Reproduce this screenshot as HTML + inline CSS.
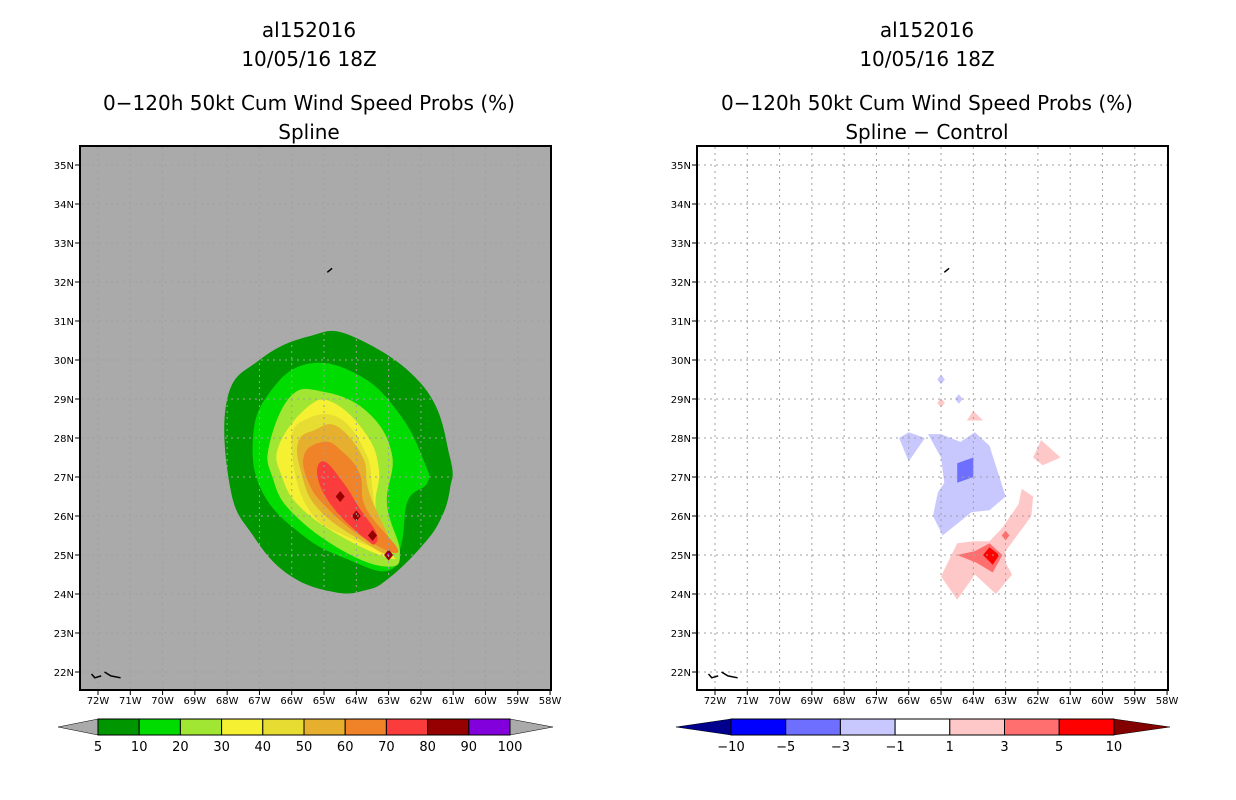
<!DOCTYPE html>
<html><head><meta charset="utf-8">
<style>
body{margin:0;background:#fff;}
svg{display:block;font-family:"DejaVu Sans","Liberation Sans",sans-serif;}
</style></head>
<body>
<svg id="chart" width="1236" height="800" viewBox="0 0 1236 800">
<g id="texts" font-size="20" text-anchor="middle" fill="#000">
  <text x="309" y="37">al152016</text>
  <text x="309" y="66">10/05/16 18Z</text>
  <text x="309" y="110">0−120h 50kt Cum Wind Speed Probs (%)</text>
  <text x="309" y="139">Spline</text>
  <text x="927" y="37">al152016</text>
  <text x="927" y="66">10/05/16 18Z</text>
  <text x="927" y="110">0−120h 50kt Cum Wind Speed Probs (%)</text>
  <text x="927" y="139">Spline − Control</text>
</g>
</svg>
<script>
// ---- data ----
const latTicks = [22,23,24,25,26,27,28,29,30,31,32,33,34,35];
const lonTicks = [72,71,70,69,68,67,66,65,64,63,62,61,60,59,58];
const probLevels = [5,10,20,30,40,50,60,70];
const probColors = ["#009600","#00dc00","#a0e632","#f5f032","#e6dc32","#e6af2d","#f08228","#fa3c3c"];
const prob5 = [[68.0,29.0],[67.0,30.0],[65.5,30.6],[64.1,30.6],[61.9,29.3],[61.1,27.5],[61.1,26.7],[61.4,25.9],[62.0,25.2],[63.0,24.4],[63.7,24.1],[64.7,24.05],[66.1,24.5],[67.2,25.5],[67.9,26.7]];
const prob10 = [[67.2,28.0],[66.7,29.15],[65.5,29.9],[63.9,29.6],[62.65,28.6],[61.9,27.4],[61.8,26.85],[62.4,26.4],[62.6,25.3],[63.0,24.6],[64.3,24.9],[65.65,25.5],[66.9,26.6]];
const prob20 = [[66.7,27.8],[66.05,29.05],[65.1,29.2],[63.7,28.7],[62.9,27.6],[63.05,26.3],[62.65,25.1],[63.0,24.7],[64.4,25.1],[66.0,26.1],[66.6,27.0]];
const prob30 = [[66.4,27.8],[65.5,28.8],[64.7,28.9],[63.7,28.1],[63.3,27.2],[63.4,26.2],[63.0,25.2],[62.9,24.9],[64.3,25.4],[65.7,26.2],[66.3,27.0]];
const prob40 = [[66.0,27.9],[65.5,28.5],[64.5,28.5],[63.7,27.6],[63.5,26.7],[63.3,25.4],[62.7,25.05],[64.1,25.4],[65.5,26.2]];
const prob50 = [[65.8,27.9],[65.3,28.2],[64.6,28.3],[63.8,27.5],[63.6,26.6],[62.9,25.1],[63.9,25.4],[65.2,26.2],[65.7,27.1]];
const prob60 = [[65.6,27.6],[65.0,27.9],[64.5,27.7],[63.9,27.1],[63.7,26.2],[62.7,25.1],[63.7,25.4],[64.9,26.2],[65.5,26.9]];
const prob70 = [[65.0,27.4],[64.4,26.85],[63.9,26.2],[63.4,25.6],[63.4,25.3],[63.7,25.4],[64.7,26.2],[65.2,27.0]];
const prob80Spots = [[64.5,26.5],[64.0,26.0],[63.5,25.5],[63.0,25.0]];
const probPolys = [prob5,prob10,prob20,prob30,prob40,prob50,prob60,prob70];

const diffColors = {lb:"#c8c8ff", mb:"#6f6fff", lp:"#ffc8c8", mr:"#ff6f6f", rr:"#ff0000"};
const diffPolys = [
 ["lb",[[66.3,28.0],[66.0,28.15],[65.5,28.0],[66.0,27.4]]],
 ["lb",[[65.4,28.1],[65.0,28.1],[64.4,27.9],[63.95,28.15],[63.5,27.8],[63.0,26.5],[63.5,26.15],[64.05,26.1],[64.95,25.5],[65.25,26.0],[65.1,26.6],[64.9,26.85],[65.0,27.5]]],
 ["mb",[[64.5,27.35],[64.0,27.5],[64.0,27.0],[64.5,26.85]]],
 ["lp",[[62.5,26.7],[62.15,26.5],[62.2,26.0],[63.0,25.1],[63.0,24.8],[62.8,24.5],[63.3,24.0],[63.95,24.5],[64.5,23.85],[65.0,24.45],[64.5,25.3],[64.0,25.35],[63.5,25.35],[63.1,25.7],[62.6,26.3]]],
 ["mr",[[64.5,25.0],[63.95,25.1],[63.5,25.3],[63.1,25.0],[63.4,24.55],[63.9,24.8]]],
 ["rr",[[63.7,25.0],[63.5,25.2],[63.2,25.0],[63.4,24.75]]],
 ["lp",[[61.9,27.95],[61.3,27.5],[61.85,27.3],[62.15,27.5]]],
 ["lp",[[64.0,28.7],[63.7,28.45],[64.2,28.45]]]
];
const diffSpots = [["mr",63.0,25.5],["lp",65.0,28.9],["lb",65.0,29.5],["lb",64.45,29.0]];

const probCbarLabels = ["5","10","20","30","40","50","60","70","80","90","100"];
const probCbarColors = ["#009600","#00dc00","#a0e632","#f5f032","#e6dc32","#e6af2d","#f08228","#fa3c3c","#960000","#8200dc"];
const diffCbarLabels = ["−10","−5","−3","−1","1","3","5","10"];
const diffCbarColors = ["#0000ff","#6f6fff","#c8c8ff","#ffffff","#ffc8c8","#ff6f6f","#ff0000"];

// ---- drawing ----
const NS="http://www.w3.org/2000/svg";
const svg=document.getElementById('chart');
function mk(tag,attrs,parent){const e=document.createElementNS(NS,tag);for(const k in attrs)e.setAttribute(k,attrs[k]);(parent||svg).appendChild(e);return e;}
const PX=32.29, PY=39;
function xs(ox,lonW){return ox+98+(72-lonW)*PX;}
function ys(lat){return 672-(lat-22)*PY;}
function pts(ox,arr){return arr.map(p=>xs(ox,p[0]).toFixed(1)+","+ys(p[1]).toFixed(1)).join(" ");}
function smoothPath(ox,arr,t){
  const P=arr.map(p=>[xs(ox,p[0]),ys(p[1])]); const n=P.length; t=t||0.5;
  let d="M"+P[0][0].toFixed(1)+","+P[0][1].toFixed(1);
  for(let i=0;i<n;i++){
    const p0=P[(i-1+n)%n],p1=P[i],p2=P[(i+1)%n],p3=P[(i+2)%n];
    const c1=[p1[0]+(p2[0]-p0[0])*t/3,p1[1]+(p2[1]-p0[1])*t/3];
    const c2=[p2[0]-(p3[0]-p1[0])*t/3,p2[1]-(p3[1]-p1[1])*t/3];
    d+=` C${c1[0].toFixed(1)},${c1[1].toFixed(1)} ${c2[0].toFixed(1)},${c2[1].toFixed(1)} ${p2[0].toFixed(1)},${p2[1].toFixed(1)}`;
  }
  return d+"Z";
}
function diamond(ox,lon,lat,r){return pts(ox,[[lon+r,lat],[lon,lat+r],[lon-r,lat],[lon,lat-r]]);}

function panel(ox,bg,name){
  const g=mk('g',{});  
  const fr=mk('rect',{x:80+ox,y:146,width:471,height:544,fill:bg},g);
   
  return g;
}
function gridAndAxes(ox,g,name){
  const gg=mk('g',{stroke:"#a0a0a0","stroke-width":1,"stroke-dasharray":"2,4"},g);
   
  lonTicks.forEach(l=>{const x=xs(ox,l); if(x-ox>81&&x-ox<550) mk('line',{x1:x,y1:147,x2:x,y2:689},gg);});
  latTicks.forEach(l=>{const y=ys(l); mk('line',{x1:81+ox,y1:y,x2:550+ox,y2:y},gg);});
  const f=mk('rect',{x:80+ox,y:146,width:471,height:544,fill:"none",stroke:"#000","stroke-width":2},g);
   
  const tg=mk('g',{"font-size":10,fill:"#000"},g);
   
  latTicks.forEach(l=>{const y=ys(l);
    mk('line',{x1:75+ox,y1:y,x2:80+ox,y2:y,stroke:"#000"},tg);
    const t=mk('text',{x:74+ox,y:y+4,"text-anchor":"end"},tg); t.textContent=l+"N";
     });
  lonTicks.forEach(l=>{const x=xs(ox,l);
    mk('line',{x1:x,y1:690,x2:x,y2:695,stroke:"#000"},tg);
    const t=mk('text',{x:x,y:704,"text-anchor":"middle"},tg); t.textContent=l+"W";
     });
  mk('polyline',{points:pts(ox,[[64.9,32.25],[64.75,32.35]]),stroke:"#000","stroke-width":1.5,fill:"none"},g);
  mk('polyline',{points:pts(ox,[[72.2,21.95],[72.1,21.85],[71.9,21.9]]),stroke:"#000","stroke-width":1.5,fill:"none"},g);
  mk('polyline',{points:pts(ox,[[71.8,22.0],[71.6,21.9],[71.3,21.85]]),stroke:"#000","stroke-width":1.5,fill:"none"},g);
}

// left panel
const gl=panel(0,"#aaaaaa","left");
probPolys.forEach((p,i)=>{const e=mk('path',{d:smoothPath(0,p,0.6),fill:probColors[i]},gl);
   });
prob80Spots.forEach(s=>{const e=mk('polygon',{points:diamond(0,s[0],s[1],0.14),fill:"#960000"},gl);
   });
{const e=mk('polygon',{points:diamond(0,63.0,25.0,0.06),fill:"#8200dc"},gl);
  }
gridAndAxes(0,gl,'left');

// right panel
const gr=panel(617,"#ffffff","right");
diffPolys.forEach(d=>{const e=mk('polygon',{points:pts(617,d[1]),fill:diffColors[d[0]]},gr);
   });
diffSpots.forEach(s=>{const e=mk('polygon',{points:diamond(617,s[1],s[2],0.12),fill:diffColors[s[0]]},gr);
   });
gridAndAxes(617,gr,'right');

// colorbars
function cbar(x0,bw,colors,labels,leftTip,leftCol,rightTip,rightCol,name){
  const g=mk('g',{});  
  const y0=719,y1=735,ym=727, xe=x0+bw*colors.length;
  mk('polygon',{points:`${leftTip},${ym} ${x0},${y0} ${x0},${y1}`,fill:leftCol,stroke:"#000","stroke-width":0.5},g);
  mk('polygon',{points:`${rightTip},${ym} ${xe},${y0} ${xe},${y1}`,fill:rightCol,stroke:"#000","stroke-width":0.5},g);
  colors.forEach((c,i)=>{const r=mk('rect',{x:x0+i*bw,y:y0,width:bw,height:y1-y0,fill:c,stroke:"#000","stroke-width":1},g);
     });
  labels.forEach((l,i)=>{const t=mk('text',{x:x0+i*bw,y:751,"text-anchor":"middle","font-size":13},g); t.textContent=l;
     });
}
cbar(98,41.2,probCbarColors,probCbarLabels,58,"#aaaaaa",553,"#aaaaaa","left-colorbar");
cbar(731,54.7,diffCbarColors,diffCbarLabels,676,"#00008c",1170,"#820000","right-colorbar");
</script>
</body></html>
